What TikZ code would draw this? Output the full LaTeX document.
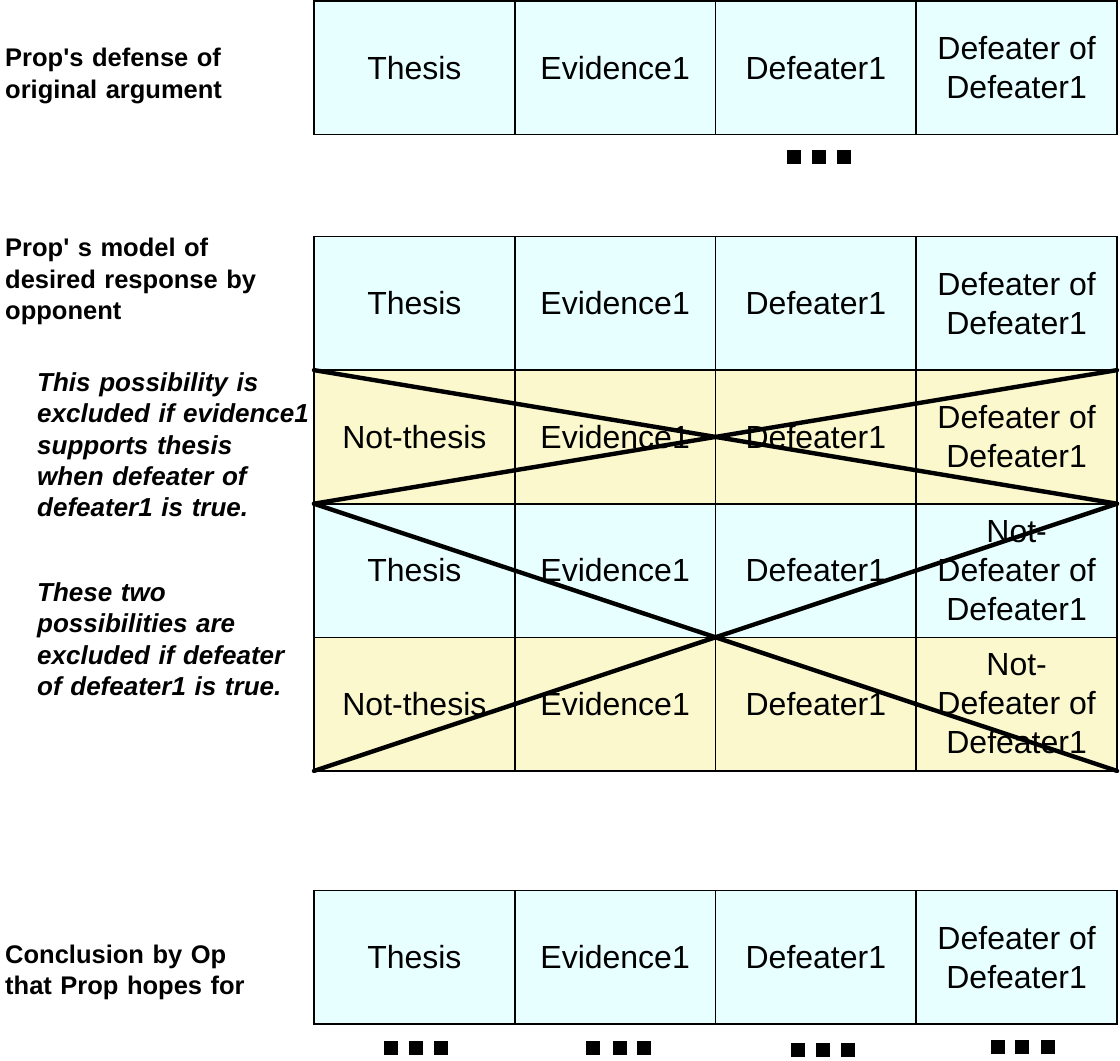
\documentclass[tikz,border=0pt]{standalone}
\usepackage{fontspec}
\setmainfont{Liberation Sans}
\begin{document}
\begin{tikzpicture}[x=1pt,y=-1pt,
  cellblue/.style={fill={rgb,255:red,232;green,255;blue,255}},
  cellyellow/.style={fill={rgb,255:red,250;green,248;blue,204}},
  cell/.style={draw=black, line width=1.6pt, minimum width=200.75pt,
    minimum height=133.6pt, inner sep=0pt, outer sep=0pt, anchor=north west,
    align=center, font=\fontsize{32}{39}\selectfont},
  rowlabel/.style={anchor=base west, inner sep=0pt, text width=310pt, align=left,
    font=\fontsize{25.5}{31.5}\selectfont\bfseries},
  note/.style={rowlabel, font=\fontsize{26}{31.2}\selectfont\bfseries\itshape},
  cross/.style={line width=4.4pt, line cap=round},
  sq/.style={fill=black, inner sep=0pt, minimum size=14pt, outer sep=0pt}]
\useasboundingbox (0,0) rectangle (1120,1061);

% ---- original argument ----
\node[cell,cellblue] (a1) at (314,1) {Thesis};
\node[cell,cellblue] (a2) at (514.75,1) {Evidence1};
\node[cell,cellblue] (a3) at (715.5,1) {Defeater1};
\node[cell,cellblue] (a4) at (916.25,1) {Defeater of\\Defeater1};
\node[sq] (ad1) at (793.5,157) {};
\node[sq] (ad2) at (819,157) {};
\node[sq] (ad3) at (844,157) {};

\node[rowlabel] (la) at (5,66.7) {Prop\textquotesingle s defense of\\original argument};

% ---- desired response, four possibilities ----
\node[rowlabel] (lb) at (5,256.7) {Prop\textquotesingle\ s model of\\desired response by\\opponent};

\node[cell,cellblue] (b1) at (314,236.5) {Thesis};
\node[cell,cellblue] (b2) at (514.75,236.5) {Evidence1};
\node[cell,cellblue] (b3) at (715.5,236.5) {Defeater1};
\node[cell,cellblue] (b4) at (916.25,236.5) {Defeater of\\Defeater1};

\node[cell,cellyellow] (c1) at (314,370.1) {Not-thesis};
\node[cell,cellyellow] (c2) at (514.75,370.1) {Evidence1};
\node[cell,cellyellow] (c3) at (715.5,370.1) {Defeater1};
\node[cell,cellyellow] (c4) at (916.25,370.1) {Defeater of\\Defeater1};

\node[cell,cellblue] (d1) at (314,503.7) {Thesis};
\node[cell,cellblue] (d2) at (514.75,503.7) {Evidence1};
\node[cell,cellblue] (d3) at (715.5,503.7) {Defeater1};
\node[cell,cellblue] (d4) at (916.25,503.7) {Not-\\Defeater of\\Defeater1};

\node[cell,cellyellow] (e1) at (314,637.3) {Not-thesis};
\node[cell,cellyellow] (e2) at (514.75,637.3) {Evidence1};
\node[cell,cellyellow] (e3) at (715.5,637.3) {Defeater1};
\node[cell,cellyellow] (e4) at (916.25,637.3) {Not-\\Defeater of\\Defeater1};

% crossed-out possibilities
\draw[cross] (c1.north west) -- (c4.south east);
\draw[cross] (c1.south west) -- (c4.north east);
\draw[cross] (d1.north west) -- (e4.south east);
\draw[cross] (e1.south west) -- (d4.north east);

\node[note] (nc) at (37,391.7) {This possibility is\\excluded if evidence1\\supports thesis\\when defeater of\\defeater1 is true.};
\node[note] (nd) at (37,601.7) {These two\\possibilities are\\excluded if defeater\\of defeater1 is true.};

% ---- hoped-for conclusion ----
\node[rowlabel] (lf) at (5,963) {Conclusion by Op\\that Prop hopes for};

\node[cell,cellblue] (f1) at (314,890.4) {Thesis};
\node[cell,cellblue] (f2) at (514.75,890.4) {Evidence1};
\node[cell,cellblue] (f3) at (715.5,890.4) {Defeater1};
\node[cell,cellblue] (f4) at (916.25,890.4) {Defeater of\\Defeater1};

\node[sq] (fa1) at (391,1048) {};
\node[sq] (fa2) at (416,1048) {};
\node[sq] (fa3) at (441,1048) {};
\node[sq] (fb1) at (593,1048) {};
\node[sq] (fb2) at (619.5,1048) {};
\node[sq] (fb3) at (644,1048) {};
\node[sq] (fc1) at (798,1050) {};
\node[sq] (fc2) at (823,1050) {};
\node[sq] (fc3) at (848,1050) {};
\node[sq] (fd1) at (997.5,1047) {};
\node[sq] (fd2) at (1022,1047) {};
\node[sq] (fd3) at (1048,1047) {};
\end{tikzpicture}
\end{document}
